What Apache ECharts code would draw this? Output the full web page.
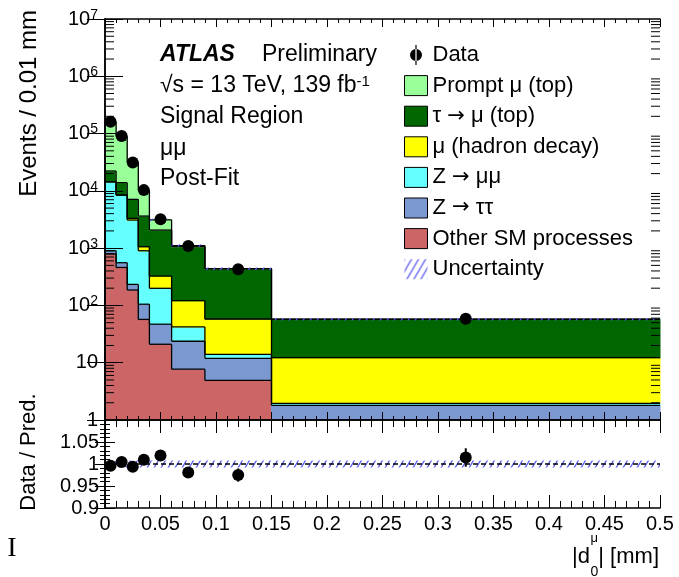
<!DOCTYPE html>
<html>
<head>
<meta charset="utf-8">
<script src="https://cdn.jsdelivr.net/npm/echarts@6/dist/echarts.min.js"></script>
<style>
html, body { margin: 0; padding: 0; background: #fff; }
#chart { width: 679px; height: 577px; }
</style>
</head>
<body>
<div id="chart"></div>
<script>
// bins in |d0| (mm), events per 0.01 mm for each process (bottom of stack first)
const binEdges = [0, 0.01, 0.02, 0.03, 0.04, 0.06, 0.09, 0.15, 0.5]
const otherSM = [790, 460, 186, 57, 21, 7.7, 4.9, 0.6]
const zTauTau = [110, 96, 47, 48, 26, 16, 7, 1.2]
const zMuMu = [13500, 7900, 2860, 795, 152, 18.5, 2.1, 0.15]
const muHadron = [0, 0, 220, 160, 127, 79, 44, 10.3]
const tauMuTop = [7800, 5450, 3790, 2570, 1744, 939, 377, 45]
const promptMu = [138500, 76100, 24500, 6570, 1050, 49, 3, 0.2]
const dataCounts = [160100, 90400, 31400, 10300, 3180, 1088, 427, 58.3]
const ratioErr = [0.003, 0.003, 0.004, 0.005, 0.007, 0.009, 0.015, 0.021]
const uncRel = [0.008, 0.008, 0.008, 0.008, 0.008, 0.008, 0.008, 0.008]

const FONT = 'Liberation Sans'

const layers = [
  { name: 'Other SM processes', color: '#cc6666', values: otherSM },
  { name: 'Z → ττ', color: '#7b99d0', values: zTauTau },
  { name: 'Z → μμ', color: '#66ffff', values: zMuMu },
  { name: 'μ (hadron decay)', color: '#ffff00', values: muHadron },
  { name: 'τ → μ (top)', color: '#006600', values: tauMuTop },
  { name: 'Prompt μ (top)', color: '#99ff99', values: promptMu }
]

function makeHatch() {
  const c = document.createElement('canvas')
  c.width = 7
  c.height = 12
  const g = c.getContext('2d')
  g.strokeStyle = '#5a5af0'
  g.lineWidth = 1.3
  g.beginPath()
  g.moveTo(-1, 13.7); g.lineTo(8, -1.7)
  g.moveTo(-8, 13.7); g.lineTo(1, -1.7)
  g.moveTo(6, 13.7); g.lineTo(15, -1.7)
  g.stroke()
  return { image: c, repeat: 'repeat' }
}
const hatch = makeHatch()

const yFloor = 1
function renderStack(params, api) {
  const x0 = api.value(0)
  const x1 = api.value(1)
  const lo = Math.max(api.value(2), yFloor)
  const hi = api.value(3)
  const prev = Math.max(api.value(4), yFloor)
  if (hi <= yFloor) return
  const a = api.coord([x0, lo])
  const b = api.coord([x1, hi])
  const p = api.coord([x0, prev])
  return {
    type: 'group',
    children: [
      // a little overlap so neighbouring bins leave no seam
      { type: 'rect', shape: { x: a[0] - 0.5, y: b[1] - 0.5, width: b[0] - a[0] + 1, height: a[1] - b[1] + 1 }, style: { fill: api.visual('color') }, z2: 0 },
      { type: 'line', shape: { x1: a[0], y1: b[1], x2: b[0], y2: b[1] }, style: { stroke: '#000', lineWidth: 1.3 }, z2: 5 },
      { type: 'line', shape: { x1: a[0], y1: p[1], x2: a[0], y2: b[1] }, style: { stroke: '#000', lineWidth: 1.3 }, z2: 5 }
    ]
  }
}

function renderBand(params, api) {
  const a = api.coord([api.value(0), api.value(2)])
  const b = api.coord([api.value(1), api.value(3)])
  let top = b[1]
  let h = a[1] - b[1]
  if (h < 2.5) { top = (a[1] + b[1]) / 2 - 1.25; h = 2.5 }
  return { type: 'rect', shape: { x: a[0], y: top, width: b[0] - a[0], height: h }, style: { fill: hatch }, z2: 8 }
}

// cumulative stack
const nBins = binEdges.length - 1
let base = new Array(nBins).fill(0)
const stackSeries = layers.map(layer => {
  const lo = base.slice()
  const hi = lo.map((v, i) => v + layer.values[i])
  base = hi
  return {
    type: 'custom',
    name: layer.name,
    xAxisIndex: 0,
    yAxisIndex: 0,
    itemStyle: { color: layer.color },
    encode: { x: 0, y: 3 },
    data: hi.map((h, i) => [binEdges[i], binEdges[i + 1], lo[i], h, i > 0 ? hi[i - 1] : lo[i]]),
    renderItem: renderStack
  }
})
const total = base
const centers = binEdges.slice(0, -1).map((e, i) => (e + binEdges[i + 1]) / 2)
const ratio = dataCounts.map((d, i) => d / total[i])

const logMinor = []
for (let k = 0; k < 7; k++) {
  for (let m = 2; m <= 9; m++) logMinor.push(m * Math.pow(10, k))
}

const tick = (len, show) => ({ show: show, inside: true, length: len, lineStyle: { color: '#000', width: 1 } })
const line = { show: true, lineStyle: { color: '#000', width: 1.5 } }
const labelStyle = { fontFamily: FONT, fontSize: 20, color: '#000' }

function xAx(grid, pos, major, minor, labels) {
  return {
    gridIndex: grid, type: 'value', position: pos, min: 0, max: 0.5, interval: 0.05, z: 10,
    axisLine: line, axisTick: tick(major, true),
    minorTick: { show: true, splitNumber: 5, length: minor, lineStyle: { color: '#000', width: 1 } },
    splitLine: { show: false },
    axisLabel: labels ? Object.assign({ margin: 6, formatter: v => String(parseFloat(v.toFixed(2))) }, labelStyle) : { show: false }
  }
}

const chart = echarts.init(document.getElementById('chart'))
chart.setOption({
  animation: false,
  textStyle: { fontFamily: FONT },
  grid: [
    { left: 105, top: 19, width: 555, height: 401 },
    { left: 105, top: 420, width: 555, height: 88 }
  ],
  xAxis: [
    xAx(0, 'bottom', 8, 4, false),
    xAx(0, 'top', 8, 4, false),
    xAx(1, 'bottom', 13, 7, true),
    xAx(1, 'top', 13, 7, false)
  ],
  yAxis: [
    {
      gridIndex: 0, type: 'log', logBase: 10, min: 1, max: 1e7, position: 'left', z: 10,
      axisLine: line, axisTick: tick(18, true), splitLine: { show: false },
      axisLabel: Object.assign({
        margin: 7,
        formatter: v => {
          const e = Math.round(Math.log10(v))
          if (e === 0) return '1'
          if (e === 1) return '10'
          return '10{sup|' + e + '}'
        },
        rich: { sup: { fontFamily: FONT, fontSize: 14, verticalAlign: 'top', padding: [0, 0, 8, 0] } }
      }, labelStyle)
    },
    {
      gridIndex: 0, type: 'log', logBase: 10, min: 1, max: 1e7, position: 'right', z: 10,
      axisLine: line, axisTick: tick(18, true), splitLine: { show: false }, axisLabel: { show: false }
    },
    {
      gridIndex: 1, type: 'value', min: 0.9, max: 1.1, interval: 0.05, position: 'left', z: 10,
      axisLine: line, axisTick: tick(10, true), splitLine: { show: false },
      minorTick: { show: true, splitNumber: 5, length: 5, lineStyle: { color: '#000', width: 1 } },
      axisLabel: Object.assign({
        margin: 6,
        formatter: v => (Math.abs(v - 1.1) < 1e-6 ? '' : String(parseFloat(v.toFixed(2))))
      }, labelStyle)
    },
    {
      gridIndex: 1, type: 'value', min: 0.9, max: 1.1, interval: 0.05, position: 'right', z: 10,
      axisLine: line, axisTick: tick(10, true), splitLine: { show: false },
      minorTick: { show: true, splitNumber: 5, length: 5, lineStyle: { color: '#000', width: 1 } },
      axisLabel: { show: false }
    }
  ],
  legend: {
    left: 404, top: 44, orient: 'vertical', padding: 0, itemGap: 8.6,
    itemWidth: 23, itemHeight: 20, icon: 'rect', selectedMode: false,
    textStyle: {
      fontFamily: FONT, fontSize: 22, color: '#000',
      rich: { arr: { fontFamily: 'DejaVu Sans', fontSize: 21, color: '#000' } }
    },
    formatter: name => name.replace(' → ', ' {arr|→} '),
    itemStyle: { borderColor: '#000', borderWidth: 1 },
    data: [
      { name: 'Data', icon: 'path://M5.4 0h1.2v20h-1.2zM0 10a6 6 0 1 0 12 0a6 6 0 1 0 -12 0z', itemStyle: { color: '#000', borderWidth: 0, opacity: 1 } }
    ].concat(layers.slice().reverse().map(l => l.name)).concat([
      { name: 'Uncertainty', itemStyle: { borderWidth: 0 } }
    ])
  },
  graphic: [
    { type: 'text', x: 160, y: 55, style: { text: 'ATLAS', fontFamily: FONT, fontSize: 23, fontWeight: 'bold', fontStyle: 'italic', fill: '#000', verticalAlign: 'middle' } },
    { type: 'text', x: 262, y: 55, style: { text: 'Preliminary', fontFamily: FONT, fontSize: 23, fill: '#000', verticalAlign: 'middle' } },
    {
      type: 'text', x: 160, y: 86, style: {
        text: '√s = 13 TeV, 139 fb{sup|-1}', fontFamily: FONT, fontSize: 23, fill: '#000', verticalAlign: 'middle',
        rich: { sup: { fontFamily: FONT, fontSize: 15, verticalAlign: 'top', padding: [0, 0, 8, 0] } }
      }
    },
    { type: 'text', x: 160, y: 117, style: { text: 'Signal Region', fontFamily: FONT, fontSize: 23, fill: '#000', verticalAlign: 'middle' } },
    { type: 'text', x: 160, y: 149, style: { text: 'μμ', fontFamily: FONT, fontSize: 23, fill: '#000', verticalAlign: 'middle' } },
    { type: 'text', x: 160, y: 179, style: { text: 'Post-Fit', fontFamily: FONT, fontSize: 23, fill: '#000', verticalAlign: 'middle' } },
    { type: 'text', x: 29, y: 10, rotation: Math.PI / 2, style: { text: 'Events / 0.01 mm', fontFamily: FONT, fontSize: 24, fill: '#000', align: 'right', verticalAlign: 'middle' } },
    { type: 'text', x: 29, y: 452, rotation: Math.PI / 2, style: { text: 'Data / Pred.', fontFamily: FONT, fontSize: 22, fill: '#000', align: 'center', verticalAlign: 'middle' } },
    { type: 'text', x: 659, y: 557, style: { text: '| [mm]', fontFamily: FONT, fontSize: 22, fill: '#000', align: 'right', verticalAlign: 'middle' } },
    { type: 'text', x: 590, y: 557, style: { text: '|d', fontFamily: FONT, fontSize: 22, fill: '#000', align: 'right', verticalAlign: 'middle' } },
    { type: 'text', x: 590.5, y: 538, style: { text: 'μ', fontFamily: FONT, fontSize: 13, fill: '#000', align: 'left', verticalAlign: 'middle' } },
    { type: 'text', x: 590.5, y: 572, style: { text: '0', fontFamily: FONT, fontSize: 14, fill: '#000', align: 'left', verticalAlign: 'middle' } },
    { type: 'text', x: 12, y: 549, style: { text: 'I', fontFamily: 'Liberation Serif', fontSize: 28, fill: '#000', align: 'center', verticalAlign: 'middle' } }
  ],
  series: stackSeries.concat([
    {
      type: 'custom', name: 'Uncertainty', xAxisIndex: 0, yAxisIndex: 0, z: 3,
      itemStyle: { color: hatch },
      encode: { x: 0, y: 3 },
      data: total.map((t, i) => [binEdges[i], binEdges[i + 1], t * (1 - uncRel[i]), t * (1 + uncRel[i])]),
      renderItem: renderBand
    },
    {
      type: 'custom', name: 'logMinorTicks', xAxisIndex: 0, yAxisIndex: 0, z: 11, silent: true,
      data: logMinor.map(v => [0, v]),
      renderItem: (params, api) => {
        const cs = params.coordSys
        const y = api.coord([0, api.value(1)])[1]
        return {
          type: 'group',
          children: [
            { type: 'line', shape: { x1: cs.x, y1: y, x2: cs.x + 9, y2: y }, style: { stroke: '#000', lineWidth: 1 } },
            { type: 'line', shape: { x1: cs.x + cs.width - 9, y1: y, x2: cs.x + cs.width, y2: y }, style: { stroke: '#000', lineWidth: 1 } }
          ]
        }
      }
    },
    {
      type: 'scatter', name: 'Data', xAxisIndex: 0, yAxisIndex: 0, z: 20,
      symbol: 'circle', symbolSize: 12, itemStyle: { color: '#000', opacity: 1 },
      data: centers.map((c, i) => [c, dataCounts[i]])
    },
    {
      type: 'custom', name: 'ratioBand', xAxisIndex: 2, yAxisIndex: 2, z: 3,
      encode: { x: 0, y: 3 },
      data: total.map((t, i) => [binEdges[i], binEdges[i + 1], 1 - uncRel[i], 1 + uncRel[i]]),
      renderItem: renderBand
    },
    {
      type: 'custom', name: 'ratioErr', xAxisIndex: 2, yAxisIndex: 2, z: 19,
      encode: { x: 0, y: 1 },
      data: centers.map((c, i) => [c, ratio[i] - ratioErr[i], ratio[i] + ratioErr[i]]),
      renderItem: (params, api) => {
        const a = api.coord([api.value(0), api.value(1)])
        const b = api.coord([api.value(0), api.value(2)])
        return { type: 'line', shape: { x1: a[0], y1: a[1], x2: b[0], y2: b[1] }, style: { stroke: '#000', lineWidth: 2 } }
      }
    },
    {
      type: 'scatter', name: 'ratio', xAxisIndex: 2, yAxisIndex: 2, z: 20,
      symbol: 'circle', symbolSize: 12, itemStyle: { color: '#000', opacity: 1 },
      data: centers.map((c, i) => [c, ratio[i]]),
      markLine: {
        silent: true, symbol: 'none', label: { show: false },
        lineStyle: { color: '#000', type: [5, 3], width: 1.5 },
        data: [{ yAxis: 1 }]
      }
    }
  ])
})
</script>
</body>
</html>
